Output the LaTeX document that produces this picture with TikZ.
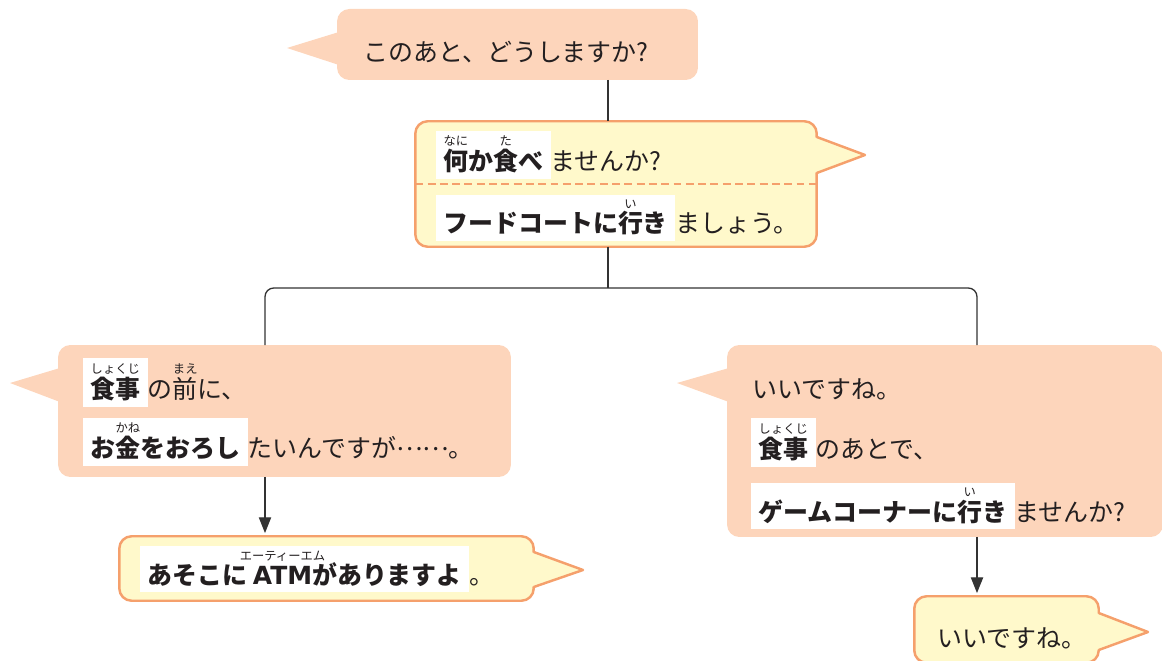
\documentclass[tikz,border=0pt]{standalone}
\usepackage{fontspec}
\setmainfont{Noto Sans CJK JP}
\newfontfamily\latinfont{DejaVu Sans}
\usetikzlibrary{arrows.meta}

\definecolor{peach}{HTML}{FDD5BB}
\definecolor{cream}{HTML}{FFF9CB}
\definecolor{rim}{HTML}{F5A06C}
\definecolor{ink}{HTML}{231F20}
\definecolor{wire}{HTML}{333333}

\newcommand{\rb}[2]{\leavevmode\setbox0\hbox{\rule[-0.12em]{0pt}{0.88em}#1}%
  \vbox{\offinterlineskip\hbox to\wd0{\hss{\mdseries\fontsize{7pt}{7pt}\selectfont#2}\hss}\kern2pt\box0}}
\newcommand{\hl}[1]{{\setlength{\fboxsep}{2.8pt}%
  \colorbox{white}{\kern1.2pt\bfseries\rule[-0.12em]{0pt}{0.88em}#1\kern1.5pt}}}
\newcommand{\middots}[1]{\raisebox{0.3em}{#1}}

\begin{document}
\begin{tikzpicture}[x=0.02cm, y=-0.02cm,
    bubble/.style = {fill=peach, rounded corners=7pt, inner sep=0pt, outer sep=0pt},
    answer/.style = {bubble, fill=cream, draw=rim, line width=1.4pt},
    qtail/.style = {fill=peach},
    atail/.style = {fill=cream},
    arim/.style = {draw=rim, line width=1.4pt, line join=round},
    link/.style = {draw=wire, line width=0.75pt},
    txt/.style = {anchor=base west, inner sep=0pt, text=ink,
                  font=\fontsize{14.2pt}{17pt}\selectfont}]
\useasboundingbox (0,0) rectangle (1162,661);
\clip (0,0) rectangle (1162,661);

\coordinate (stem) at (608,0);
\coordinate (lx) at (265,0);
\coordinate (rx) at (977,0);
\coordinate (bar) at (0,288);

% speech bubbles
\node[bubble, minimum width=7.22cm, minimum height=1.42cm] (q) at (517.5,44.5) {};
\node[answer, minimum width=8.03cm, minimum height=2.51cm] (a) at (616,184) {};
\node[bubble, minimum width=9.06cm, minimum height=2.64cm] (l) at (284.5,411) {};
\node[bubble, minimum width=8.72cm, minimum height=3.84cm] (r) at (945,441) {};
\node[answer, minimum width=8.29cm, minimum height=1.29cm] (atm) at (326.5,568.5) {};
\node[answer, minimum width=3.69cm, minimum height=1.33cm] (br) at (1006.5,629.5) {};

\fill[qtail] (339,32) -- (287,48) -- (339,65) -- cycle;
\fill[qtail] (60,368) -- (10,383) -- (60,402) -- cycle;
\fill[qtail] (729,368) -- (677,383) -- (729,402) -- cycle;
\fill[atail] (814,137) -- (865,155) -- (814,173) -- cycle;
\draw[arim] (816.75,137) -- (865,155) -- (816.75,173);
\fill[atail] (531,552) -- (583,570) -- (531,587) -- cycle;
\draw[arim] (533.75,552) -- (583,570) -- (533.75,587);
\fill[atail] (1096,613) -- (1148,632) -- (1096,650) -- cycle;
\draw[arim] (1098.75,613) -- (1148,632) -- (1098.75,650);

\draw[rim, line width=1.1pt, dash pattern=on 4.5pt off 2.5pt]
    (a.west |- 0,184) -- (a.east |- 0,184);

% texts
\node[txt] (q-t) at (363,62) {このあと、どうしますか?};
\node[txt] (a-1) at (436,171) {\hl{\rb{何}{なに}か\rb{食}{た}べ}ませんか?};
\node[txt] (a-2) at (436,233) {\hl{フードコートに\rb{行}{い}き}ましょう。};
\node[txt] (l-1) at (83,399) {\hl{\rb{食事}{しょくじ}}の\rb{前}{まえ}に、};
\node[txt] (l-2) at (83,458) {\hl{お\rb{金}{かね}をおろし}たいんですが\middots{……}。};
\node[txt] (r-1) at (752,399) {いいですね。};
\node[txt] (r-2) at (751,459) {\hl{\rb{食事}{しょくじ}}のあとで、};
\node[txt] (r-3) at (751,521) {\hl{ゲームコーナーに\rb{行}{い}き}ませんか?};
\node[txt] (atm-t) at (140,584) {\hl{あそこに \rb{\latinfont ATM}{エーティーエム}がありますよ}。};
\node[txt] (br-t) at (937,647) {いいですね。};

% connectors
\draw[link] (q.south -| stem) -- (a.north -| stem);
\draw[link] (a.south -| stem) -- (bar -| stem);
\draw[link, rounded corners=5pt] (l.north -| lx) |- (bar -| rx) -- (r.north -| rx);
\draw[link, -{Triangle[width=7pt,length=9pt]}, shorten >=1.8pt] (l.south -| lx) -- (atm.north -| lx);
\draw[link, -{Triangle[width=7pt,length=9pt]}, shorten >=1.8pt] (r.south -| rx) -- (br.north -| rx);
\end{tikzpicture}
\end{document}
